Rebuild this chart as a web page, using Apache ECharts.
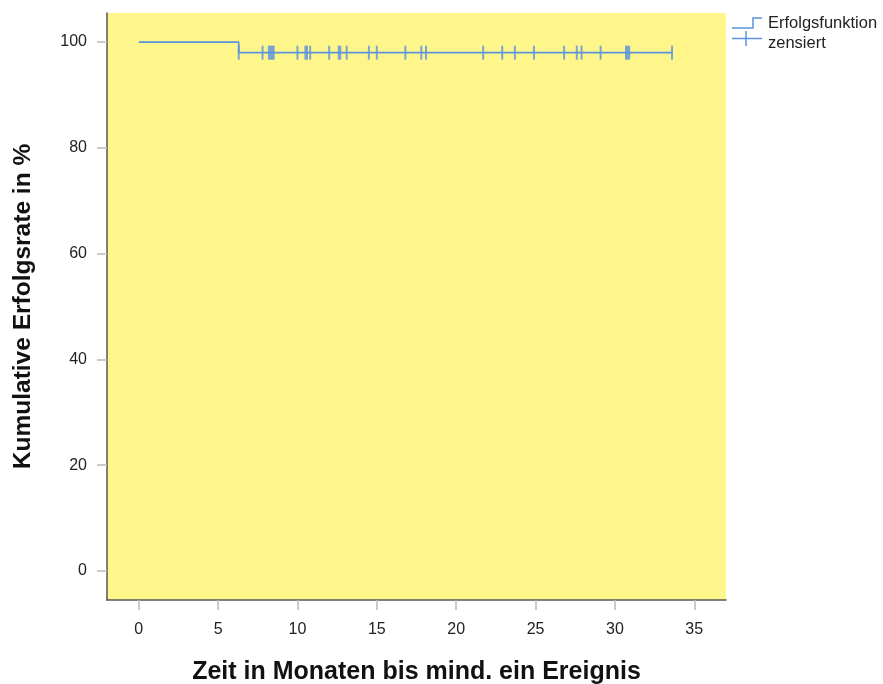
<!DOCTYPE html>
<html>
<head>
<meta charset="utf-8">
<script src="https://cdn.jsdelivr.net/npm/echarts@6/dist/echarts.min.js"></script>
<style>html,body{margin:0;padding:0;background:#fff}#c{width:883px;height:684px}</style>
</head>
<body>
<div id="c"></div>
<script>
// Survival step function
const stepTimes = [0, 6.3, 33.6];
const stepValues = [100, 98, 98];
// Censored times (all at 98 %)
const censorTimes = [6.3, 7.8, 8.2, 8.3, 8.4, 8.5, 10.0, 10.5, 10.6, 10.8, 12.0, 12.6, 12.7, 13.1, 14.5, 15.0, 16.8, 17.8, 18.1, 21.7, 22.9, 23.7, 24.9, 26.8, 27.6, 27.9, 29.1, 30.7, 30.8, 30.9, 33.6];
const censorLevel = 98;
const xTicks = [0, 5, 10, 15, 20, 25, 30, 35];
const yTicks = [0, 20, 40, 60, 80, 100];
const seriesNames = ['Erfolgsfunktion', 'zensiert'];
const xTitle = 'Zeit in Monaten bis mind. ein Ereignis';
const yTitle = 'Kumulative Erfolgsrate in %';

const blue = '#5b93dc';
const font = 'Liberation Sans, Arial, Helvetica, sans-serif';
const chart = echarts.init(document.getElementById('c'), null, {renderer: 'canvas'});
chart.setOption({
  animation: false,
  backgroundColor: '#ffffff',
  grid: {left: 107, right: 157, top: 13, bottom: 84, show: true, backgroundColor: '#fef58b', borderWidth: 0, containLabel: false, outerBoundsMode: 'none'},
  xAxis: {
    type: 'value', min: -2, max: 37,
    name: xTitle, nameLocation: 'middle', nameGap: 60,
    nameTextStyle: {fontFamily: font, fontSize: 25, fontWeight: 'bold', color: '#111'},
    axisLine: {show: true, onZero: false, lineStyle: {color: '#555', width: 1.5}},
    axisTick: {show: true, length: 10, customValues: xTicks, lineStyle: {color: '#bbb', width: 1.5}},
    axisLabel: {customValues: xTicks, margin: 22, fontFamily: font, fontSize: 16, color: '#222'},
    splitLine: {show: false}
  },
  yAxis: {
    type: 'value', min: -5.5, max: 105.5,
    name: yTitle, nameLocation: 'middle', nameGap: 71,
    nameTextStyle: {fontFamily: font, fontSize: 24.5, fontWeight: 'bold', color: '#111'},
    axisLine: {show: true, onZero: false, lineStyle: {color: '#555', width: 1.5}},
    axisTick: {show: true, length: 10, customValues: yTicks, lineStyle: {color: '#bbb', width: 1.5}},
    axisLabel: {customValues: yTicks, margin: 20, fontFamily: font, fontSize: 16, color: '#222'},
    splitLine: {show: false}
  },
  series: [
    {
      name: seriesNames[0], type: 'line', step: 'end', symbol: 'none',
      data: stepTimes.map((t, i) => [t, stepValues[i]]),
      lineStyle: {color: blue, width: 1.6}, z: 2
    },
    {
      name: seriesNames[1], type: 'scatter', symbol: 'rect', symbolSize: [2, 14],
      data: censorTimes.map(t => [t, censorLevel]),
      itemStyle: {color: blue}, z: 3
    }
  ],
  graphic: [
    {type: 'polyline', shape: {points: [[732, 28], [753, 28], [753, 18], [762, 18]]}, style: {stroke: blue, lineWidth: 1.5, fill: null}},
    {type: 'text', left: 768, top: 14.5, style: {text: seriesNames[0], font: '16.5px ' + font, fill: '#222'}},
    {type: 'line', shape: {x1: 732, y1: 38.5, x2: 762, y2: 38.5}, style: {stroke: blue, lineWidth: 1.5}},
    {type: 'line', shape: {x1: 746, y1: 31, x2: 746, y2: 46}, style: {stroke: blue, lineWidth: 1.5}},
    {type: 'text', left: 768, top: 34.5, style: {text: seriesNames[1], font: '16.5px ' + font, fill: '#222'}}
  ]
});
</script>
</body>
</html>
